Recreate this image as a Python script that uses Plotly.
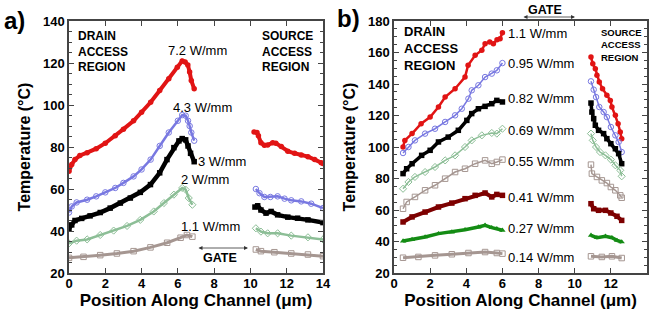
import plotly.graph_objects as go

# ---------------- Panel a data (x in um, T in degC) ----------------
a72_drain_x = [0, 0.15, 0.33, 0.6, 1.0, 1.5, 2.0, 2.55, 3.0, 3.56, 4.0, 4.5, 5.0, 5.5, 5.97, 6.24, 6.4, 6.55, 6.65, 6.74, 6.9]
a72_drain_y = [68.5, 71.7, 74, 76, 77.3, 79.2, 81.8, 85.3, 88.5, 92.5, 96.5, 101.3, 106.9, 112.5, 118, 121, 120.5, 119, 115.7, 111.7, 107.7]
a72_src_x = [10.2, 10.36, 10.44, 10.58, 10.77, 10.95, 11.23, 11.4, 11.7, 12.06, 12.43, 12.8, 13.17, 13.54, 13.9, 14.0]
a72_src_y = [87.2, 86.9, 85.3, 82, 80.8, 81, 82, 81.8, 80.2, 78, 77, 76.2, 75.4, 74, 72.5, 72.2]

a43_drain_x = [0, 0.15, 0.42, 1.0, 1.5, 2.0, 2.55, 3.0, 3.56, 4.0, 4.5, 5.0, 5.5, 6.0, 6.24, 6.43, 6.56, 6.65, 6.74, 6.9]
a43_drain_y = [48.8, 51.7, 53.6, 54.9, 56.5, 58.4, 60.5, 62.9, 66, 69.3, 74, 80.5, 86.9, 92.5, 95.2, 94.9, 92.5, 90, 86.9, 83]
a43_src_x = [10.3, 10.5, 10.77, 11.1, 11.5, 11.88, 12.25, 12.8, 13.35, 14.0]
a43_src_y = [60, 58, 56.2, 56.2, 56.5, 55.4, 54.6, 54.1, 53, 50.9]

a30_drain_x = [0, 0.15, 0.33, 0.7, 1.16, 1.72, 2.27, 2.83, 3.38, 3.93, 4.49, 5.0, 5.4, 5.78, 6.06, 6.24, 6.43, 6.56, 6.7, 6.9]
a30_drain_y = [41.3, 42.9, 45, 46, 47.2, 48.8, 50.9, 53.3, 55.7, 58.4, 62.1, 67.7, 74, 79.7, 82.9, 84, 83.4, 80.5, 77, 73]
a30_src_x = [10.25, 10.4, 10.58, 10.86, 11.14, 11.5, 12.06, 12.6, 13.17, 14.0]
a30_src_y = [51.4, 52, 50, 48.5, 49.3, 47.7, 46.6, 46.1, 45.3, 44]

a20_drain_x = [0, 0.42, 1.0, 1.72, 2.46, 3.2, 3.93, 4.67, 5.23, 5.78, 6.24, 6.43, 6.6, 6.8]
a20_drain_y = [34.1, 35.4, 36, 38.1, 40.2, 42.4, 45.3, 49.3, 53.3, 57.3, 60.5, 59.7, 55.7, 52.5]
a20_src_x = [10.3, 10.58, 10.95, 11.5, 12.25, 13.17, 14.0]
a20_src_y = [41.3, 39.7, 38.9, 38.9, 37.8, 37, 36]

a11_drain_x = [0, 0.8, 1.72, 2.64, 3.56, 4.49, 5.41, 6.15, 6.5, 6.8]
a11_drain_y = [27.2, 27.7, 28.5, 29.3, 30.4, 32.2, 34.4, 36.8, 38.1, 37.3]
a11_src_x = [10.3, 10.58, 11.32, 12.25, 13.17, 14.0]
a11_src_y = [31.2, 30.4, 29.9, 29.3, 28.8, 28]

# ---------------- Panel b data ----------------
b110_drain_x = [0.5, 0.6, 1.0, 1.5, 2.0, 2.46, 2.83, 3.38, 3.93, 4.1, 4.49, 4.86, 5.04, 5.3, 5.5, 5.7, 5.87, 6.0]
b110_drain_y = [100, 104.2, 108.5, 114.8, 119, 125.4, 131.7, 137, 144.4, 151.9, 158.2, 161.4, 165.6, 166.7, 165.6, 168.1, 168.8, 172.6]
b110_src_x = [10.9, 11.0, 11.14, 11.23, 11.36, 11.54, 11.78, 11.97, 12.06, 12.25, 12.4, 12.52, 12.6]
b110_src_y = [157.1, 152.9, 149.7, 145.5, 141.3, 137, 132.8, 129.6, 125.4, 120.1, 114.8, 109.5, 105.3]

b095_drain_x = [0.5, 0.8, 1.16, 1.72, 2.27, 2.83, 3.38, 3.75, 4.12, 4.3, 4.67, 5.04, 5.41, 5.69, 6.0]
b095_drain_y = [96.2, 100, 104.2, 108.5, 111.6, 115.9, 120.1, 124.3, 130.7, 136, 139.2, 144.4, 146.6, 148.7, 153.3]
b095_src_x = [10.9, 11.05, 11.18, 11.36, 11.6, 11.78, 12.0, 12.25, 12.43, 12.6]
b095_src_y = [141.7, 136.4, 131.7, 125.4, 122.2, 119, 112.7, 107.4, 103.2, 96.8]

b082_drain_x = [0.5, 0.7, 1.0, 1.53, 2.0, 2.46, 3.0, 3.56, 4.03, 4.3, 4.67, 5.04, 5.41, 5.69, 6.0]
b082_drain_y = [83.1, 86.2, 89.4, 94.7, 97.9, 103.2, 106.3, 110.6, 116.9, 121.2, 124.3, 125.8, 127.5, 129.6, 128.6]
b082_src_x = [10.9, 10.95, 11.05, 11.14, 11.32, 11.6, 11.78, 12.0, 12.25, 12.43, 12.6]
b082_src_y = [127.9, 122.2, 118, 113.8, 110.6, 108.5, 105.3, 102.1, 98.9, 95.8, 89.4]

b069_drain_x = [0.5, 0.8, 1.16, 1.72, 2.27, 2.83, 3.38, 3.93, 4.3, 4.86, 5.41, 5.69, 6.0]
b069_drain_y = [73.5, 77.8, 81, 84.1, 87.3, 91.5, 94.7, 100, 104.2, 107.4, 108.9, 108.5, 111.6]
b069_src_x = [10.9, 11.0, 11.18, 11.4, 11.7, 12.0, 12.25, 12.52, 12.6]
b069_src_y = [108.5, 104.2, 100, 96.8, 94.7, 92, 88.4, 85.2, 81.4]

b055_drain_x = [0.5, 0.7, 1.16, 1.72, 2.27, 2.83, 3.38, 3.93, 4.49, 5.04, 5.41, 5.69, 6.0]
b055_drain_y = [60.8, 65.1, 68.3, 72.5, 75.7, 79.9, 84.1, 86.2, 89.4, 91.5, 89.4, 90.5, 92]
b055_src_x = [10.9, 10.95, 11.23, 11.5, 11.78, 12.0, 12.25, 12.52, 12.6]
b055_src_y = [88.8, 83.1, 81, 78.8, 77.1, 74.6, 72.5, 69.3, 67.8]

b041_drain_x = [0.5, 1.0, 1.72, 2.46, 3.2, 3.93, 4.49, 5.04, 5.41, 5.69, 6.0]
b041_drain_y = [52.4, 55.6, 58.7, 61.9, 64.4, 67.2, 69.3, 70.8, 68.3, 69.9, 69.3]
b041_src_x = [10.9, 11.05, 11.32, 11.7, 12.0, 12.34, 12.6]
b041_src_y = [64, 60.8, 59.8, 59.8, 58.1, 56, 53.4]

b027_drain_x = [0.5, 1.0, 1.72, 2.46, 3.2, 3.93, 4.67, 5.04, 5.41, 5.69, 6.0]
b027_drain_y = [40.3, 41.2, 42.9, 45, 46, 47.5, 49.2, 50.3, 48.8, 48.1, 47.1]
b027_src_x = [10.9, 11.23, 11.7, 12.06, 12.34, 12.6]
b027_src_y = [43.9, 42.4, 43.3, 42.4, 40.7, 39.7]

b014_drain_x = [0.5, 1.35, 2.27, 3.2, 4.12, 5.04, 5.69, 6.0]
b014_drain_y = [29.7, 30.2, 31.2, 31.9, 32.7, 33.3, 32.7, 32.3]
b014_src_x = [10.9, 11.5, 12.06, 12.6]
b014_src_y = [30.6, 30.2, 30.6, 29.5]

# labels
a_labels = ["7.2 W/mm", "4.3 W/mm", "3 W/mm", "2 W/mm", "1.1 W/mm"]
b_labels = ["1.1 W/mm", "0.95 W/mm", "0.82 W/mm", "0.69 W/mm", "0.55 W/mm", "0.41 W/mm", "0.27 W/mm", "0.14 W/mm"]
x_ticks = [0, 2, 4, 6, 8, 10, 12, 14]
a_y_ticks = [20, 40, 60, 80, 100, 120, 140]
b_y_ticks = [20, 40, 60, 80, 100, 120, 140, 160, 180]

RED = "rgb(225,20,20)"
BLUE = "rgb(120,120,225)"
BLACK = "black"
LGREEN = "rgb(140,190,150)"
GRAY = "rgb(165,150,145)"
DRED = "rgb(125,0,0)"
GREEN = "rgb(20,140,20)"

fig = go.Figure()

def add_series(xd, yd, xs, ys, color, symbol, size, lw, axis):
    xa, ya = axis
    open_sym = symbol.endswith("-open")
    for xx, yy in ((xd, yd), (xs, ys)):
        fig.add_trace(go.Scatter(
            x=xx, y=yy, mode="lines+markers", xaxis=xa, yaxis=ya,
            line=dict(color=color, width=lw),
            marker=dict(symbol=symbol, size=size, color=color,
                        line=dict(color=color, width=1 if open_sym else 0)),
            showlegend=False, hoverinfo="skip"))

A = ("x", "y")
B = ("x2", "y2")
add_series(a72_drain_x, a72_drain_y, a72_src_x, a72_src_y, RED, "circle", 5.5, 4, A)
add_series(a43_drain_x, a43_drain_y, a43_src_x, a43_src_y, BLUE, "circle-open", 5.5, 2.5, A)
add_series(a30_drain_x, a30_drain_y, a30_src_x, a30_src_y, BLACK, "square", 5.5, 4.5, A)
add_series(a20_drain_x, a20_drain_y, a20_src_x, a20_src_y, LGREEN, "diamond-open", 5.5, 2.5, A)
add_series(a11_drain_x, a11_drain_y, a11_src_x, a11_src_y, GRAY, "square-open", 5.5, 3, A)

add_series(b110_drain_x, b110_drain_y, b110_src_x, b110_src_y, RED, "circle", 5.5, 2.5, B)
add_series(b095_drain_x, b095_drain_y, b095_src_x, b095_src_y, BLUE, "circle-open", 5.5, 1.5, B)
add_series(b082_drain_x, b082_drain_y, b082_src_x, b082_src_y, BLACK, "square", 5.5, 3.5, B)
add_series(b069_drain_x, b069_drain_y, b069_src_x, b069_src_y, LGREEN, "diamond-open", 5.5, 1.5, B)
add_series(b055_drain_x, b055_drain_y, b055_src_x, b055_src_y, GRAY, "square-open", 5.5, 1.5, B)
add_series(b041_drain_x, b041_drain_y, b041_src_x, b041_src_y, DRED, "square", 5.5, 4, B)
add_series(b027_drain_x, b027_drain_y, b027_src_x, b027_src_y, GREEN, "triangle-up", 5.5, 3.5, B)
add_series(b014_drain_x, b014_drain_y, b014_src_x, b014_src_y, GRAY, "square-open", 5.5, 3, B)

W, H = 654, 320
def px(v): return v / W
def py(v): return 1 - v / H

FAM = "Liberation Sans, Arial, sans-serif"
axis_common = dict(showline=True, linecolor="#444", linewidth=1.5, mirror="ticks",
                   ticks="inside", ticklen=5, tickwidth=1, tickcolor="#444",
                   showgrid=False, zeroline=False, automargin=False,
                   tickfont=dict(family=FAM, size=13, color="black", weight="bold"))
xtitle_font = dict(family=FAM, size=17, color="black", weight="bold")
ytitle_font = dict(family=FAM, size=16, color="black", weight="bold")

fig.update_layout(
    width=W, height=H, margin=dict(l=0, r=0, t=0, b=0, autoexpand=False),
    paper_bgcolor="white", plot_bgcolor="white",
    xaxis=dict(domain=[px(69), px(323)], range=[0, 14], tickvals=x_ticks, ticklabelstandoff=-2,
               title=dict(text="Position Along Channel (μm)", font=xtitle_font, standoff=2),
               anchor="y", **axis_common),
    yaxis=dict(domain=[py(273), py(21)], range=[20, 140], tickvals=a_y_ticks, ticklabelstandoff=0,
               title=dict(text="Temperature (°C)", font=ytitle_font, standoff=8),
               minor=dict(dtick=5, ticks="inside", ticklen=3, tickcolor="#444"),
               anchor="x", **axis_common),
    xaxis2=dict(domain=[px(394), px(647)], range=[0, 14], tickvals=x_ticks, ticklabelstandoff=-2,
                title=dict(text="Position Along Channel (μm)", font=xtitle_font, standoff=2),
                anchor="y2", **axis_common),
    yaxis2=dict(domain=[py(273), py(21)], range=[20, 180], tickvals=b_y_ticks, ticklabelstandoff=0,
                title=dict(text="Temperature (°C)", font=ytitle_font, standoff=8),
                minor=dict(dtick=5, ticks="inside", ticklen=3, tickcolor="#444"),
                anchor="x2", **axis_common),
)

ann = []
BOLDF = dict(family=FAM, size=12, color="black", weight="bold")
REGF = dict(family=FAM, size=13, color="black")

def note(text, x, y, font, xanchor="center", yanchor="middle", align="left"):
    ann.append(dict(text=text, x=px(x), y=py(y), xref="paper", yref="paper",
                    showarrow=False, font=font, xanchor=xanchor, yanchor=yanchor, align=align))

# panel labels
note("a)", 2, 20, dict(family=FAM, size=24, color="black", weight="bold"), xanchor="left")
note("b)", 335, 18, dict(family=FAM, size=24, color="black", weight="bold"), xanchor="left")

# panel a texts
note("DRAIN<br>ACCESS<br>REGION", 76, 52, BOLDF, xanchor="left")
note("SOURCE<br>ACCESS<br>REGION", 260, 52, BOLDF, xanchor="left")
a_label_pos = [(197, 50), (202, 107), (222, 161), (205, 179), (210, 226)]
for t, (x, y) in zip(a_labels, a_label_pos):
    note(t, x, y, REGF)
note("GATE", 220, 258, dict(family=FAM, size=12.5, color="black", weight="bold"))

# panel b texts
note("DRAIN<br>ACCESS<br>REGION", 402, 49, dict(family=FAM, size=13, color="black", weight="bold"), xanchor="left")
note("SOURCE<br>ACCESS<br>REGION", 599, 45, dict(family=FAM, size=9.5, color="black", weight="bold"), xanchor="left")
b_label_y = [33, 63, 99, 130, 161, 197, 228, 257]
for t, y in zip(b_labels, b_label_y):
    note(t, 506, y, REGF, xanchor="left")
note("GATE", 545, 10, dict(family=FAM, size=12.5, color="black", weight="bold"))

# gate arrows (double-headed)
for (x0, x1, y) in [(197, 248, 248), (522, 575, 17)]:
    ann.append(dict(x=px(x1), y=py(y), xref="paper", yref="paper",
                    axref="pixel", ayref="pixel", ax=-(x1 - x0), ay=0,
                    text="", showarrow=True,
                    arrowhead=2, arrowsize=1, arrowwidth=0.8, arrowside="end+start",
                    arrowcolor="#333"))

fig.update_layout(annotations=ann)
# remove the default page margin so the figure sits at the window's top-left corner
fig.write_html("out.html", config={"displayModeBar": False},
               post_script="document.body.style.margin='0';document.body.style.overflow='hidden';")
